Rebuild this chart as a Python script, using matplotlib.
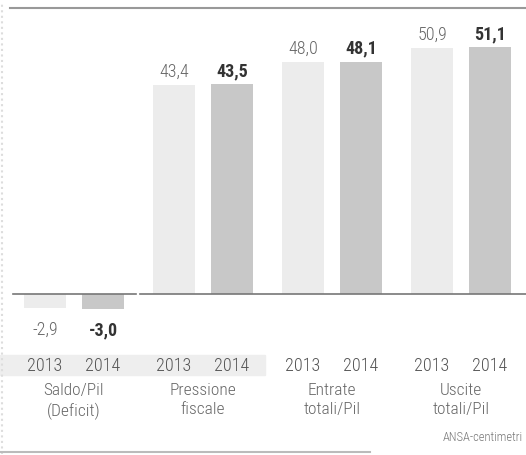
import numpy as np
import matplotlib
matplotlib.use('Agg')
import matplotlib.pyplot as plt

plt.rcParams['font.family'] = ['Roboto Condensed', 'DejaVu Sans']

# dati (% del Pil)
CATEGORIE = ['Saldo/Pil\n(Deficit)', 'Pressione\nfiscale', 'Entrate\ntotali/Pil', 'Uscite\ntotali/Pil']
ANNI = ['2013', '2014']
V2013 = [-2.9, 43.4, 48.0, 50.9]
V2014 = [-3.0, 43.5, 48.1, 51.1]

C2013 = '#ececec'
C2014 = '#c8c8c8'

fig = plt.figure(figsize=(5.26, 4.55), dpi=100)
ax = fig.add_axes([0, 0, 1, 1])
ax.set_xlim(0, 526)
ax.set_ylim(-33.3, 60.9)
ax.axis('off')

x13 = 45 + 129*np.arange(len(CATEGORIE))
x14 = x13 + 58
w = 42

# barre
ax.bar(x13, V2013, width=w, color=C2013, zorder=2)
ax.bar(x14, V2014, width=w, color=C2014, zorder=2)

# linea dello zero, linea superiore e bordi
ax.plot([13, 136], [0, 0], color='#777777', lw=1.2, zorder=3)
ax.plot([140, 526], [0, 0], color='#777777', lw=1.2, zorder=3)
ax.plot([10, 526], [59.2, 59.2], color='#999999', lw=1.5)
ax.plot([2, 2], [-33, 60], color='#dddddd', lw=1.5, ls=':')
ax.plot([0, 370], [-32.7, -32.7], color='#bbbbbb', lw=1.5)

# banda grigia dietro gli anni (scansione)
ax.axhspan(-16.8, -12.6, xmin=0, xmax=265/526, color='#eeeeee', zorder=0)

def fmt(v):
    return '{:.1f}'.format(v).replace('.', ',')

# etichette dei valori
for x, v in zip(x13, V2013):
    y = v + 2.7 if v >= 0 else -7.45
    ax.text(x, y, fmt(v), ha='center', va='center', fontsize=13, color='#666666', fontweight='light')
for x, v in zip(x14, V2014):
    y = v + 2.7 if v >= 0 else -7.45
    ax.text(x, y, fmt(v), ha='center', va='center', fontsize=13, color='#333333', fontweight='bold')

# anni e categorie
for i, cat in enumerate(CATEGORIE):
    ax.text(x13[i], -14.9, ANNI[0], ha='center', va='center', fontsize=13, color='#555555', fontweight='light')
    ax.text(x14[i], -14.9, ANNI[1], ha='center', va='center', fontsize=13, color='#555555', fontweight='light')
    ax.text((x13[i] + x14[i])/2, -18.3, cat, ha='center', va='top', fontsize=12.5,
            color='#666666', fontweight='light', linespacing=1.4)

ax.text(523, -29.6, 'ANSA-centimetri', ha='right', va='center', fontsize=9, color='#777777', fontweight='light')

plt.savefig('out.png', dpi=100)
